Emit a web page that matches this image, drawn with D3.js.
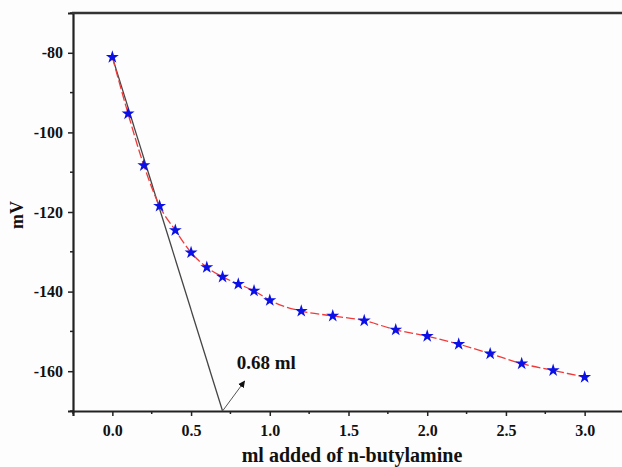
<!DOCTYPE html>
<html>
<head>
<meta charset="utf-8">
<script src="https://cdn.jsdelivr.net/npm/d3@7"></script>
<style>
  html, body { margin: 0; padding: 0; background: #fdfdfd; }
  svg { display: block; }
  text { font-family: "Liberation Serif", "Times New Roman", serif; font-weight: bold; fill: #111; }
</style>
</head>
<body>
<svg id="chart" width="622" height="467"></svg>
<script>
// titration data: ml of n-butylamine vs potential (mV)
const volumes = [0, 0.1, 0.2, 0.3, 0.4, 0.5, 0.6, 0.7, 0.8, 0.9, 1.0, 1.2, 1.4, 1.6, 1.8, 2.0, 2.2, 2.4, 2.6, 2.8, 3.0];
const potentials = [-81.1, -95.3, -108.3, -118.5, -124.6, -130.2, -133.9, -136.3, -138.1, -139.8, -142.2, -144.9, -146.1, -147.3, -149.6, -151.2, -153.2, -155.6, -158.1, -159.8, -161.5];

// tangent line through the first points, meets the axis at the end point
const tangent = [[0, -81.1], [0.70, -170]];
const endPointLabel = "0.68 ml";

const xTicks = [0, 0.5, 1.0, 1.5, 2.0, 2.5, 3.0];
const yTicks = [-80, -100, -120, -140, -160];

const svg = d3.select('#chart');
const margin = { left: 73, top: 13, right: -2, bottom: 56 };
const width = 622, height = 467;

const x = d3.scaleLinear().domain([-0.25, 3.25]).range([margin.left, width - margin.right]);
const y = d3.scaleLinear().domain([-170, -70]).range([height - margin.bottom, margin.top]);

const data = volumes.map((v, i) => ({ x: v, y: potentials[i] }));

// minor ticks
const xMinor = d3.range(-0.25, 3.26, 0.25).filter(v => Math.abs(v * 2 - Math.round(v * 2)) > 0.01);
const yMinor = d3.range(-170, -69, 10).filter(v => v % 20 !== 0);

const xAxisG = svg.append("g").attr("transform", `translate(0,${y(-170)})`);
xAxisG.call(d3.axisBottom(x).tickValues(xTicks).tickFormat(d3.format(".1f")).tickSize(5).tickPadding(9));
xMinor.forEach(v => {
    xAxisG.append("line").attr("x1", x(v)).attr("x2", x(v)).attr("y1", 0).attr("y2", 3)
        .attr("stroke", "#222").attr("stroke-width", 1.5);
});

// plain hyphen like the original figure, not the unicode minus
const yAxisG = svg.append("g").attr("transform", `translate(${x(-0.25)},0)`);
yAxisG.call(d3.axisLeft(y).tickValues(yTicks).tickFormat(d => String(d)).tickSize(5).tickPadding(5));
yMinor.forEach(v => {
    yAxisG.append("line").attr("x1", 0).attr("x2", -3).attr("y1", y(v)).attr("y2", y(v))
        .attr("stroke", "#222").attr("stroke-width", 1.5);
});

[xAxisG, yAxisG].forEach(g => {
    g.select(".domain").attr("stroke", "#222").attr("stroke-width", 2.2);
    g.selectAll(".tick line").attr("stroke", "#222").attr("stroke-width", 1.5);
    g.selectAll(".tick text").attr("font-size", 16).attr("fill", "#111")
        .style("font-family", '"Liberation Serif", serif').style("font-weight", "bold");
});

// top frame line
svg.append("line")
    .attr("x1", x(-0.25) - 1).attr("x2", width)
    .attr("y1", y(-70)).attr("y2", y(-70))
    .attr("stroke", "#333").attr("stroke-width", 2.5);

// tangent line
svg.append("line")
    .attr("x1", x(tangent[0][0])).attr("y1", y(tangent[0][1]))
    .attr("x2", x(tangent[1][0])).attr("y2", y(tangent[1][1]))
    .attr("stroke", "#444").attr("stroke-width", 1.3);

// data curve
const line = d3.line().x(d => x(d.x)).y(d => y(d.y)).curve(d3.curveMonotoneX);
svg.append("path")
    .datum(data)
    .attr("d", line)
    .attr("fill", "none")
    .attr("stroke", "#f03a3a")
    .attr("stroke-width", 1.3)
    .attr("stroke-dasharray", "9,3");

svg.append("g").selectAll("path")
    .data(data)
    .join("path")
    .attr("transform", d => `translate(${x(d.x)},${y(d.y)})`)
    .attr("d", d3.symbol().type(d3.symbolStar).size(52))
    .attr("fill", "#0a10e6");

// arrow to the end point label
svg.append("defs").append("marker")
    .attr("id", "arrowhead")
    .attr("viewBox", "0 0 10 10")
    .attr("refX", 9).attr("refY", 5)
    .attr("markerWidth", 7).attr("markerHeight", 7)
    .attr("orient", "auto")
    .append("path").attr("d", "M0,0 L10,5 L0,10 Z").attr("fill", "#111");

svg.append("line")
    .attr("x1", x(tangent[1][0])).attr("y1", y(tangent[1][1]))
    .attr("x2", x(0.84)).attr("y2", y(-162.5))
    .attr("stroke", "#555").attr("stroke-width", 1)
    .attr("marker-end", "url(#arrowhead)");

svg.append("text")
    .attr("x", x(0.79)).attr("y", y(-159.5))
    .attr("font-size", 19)
    .text(endPointLabel);

// axis titles
svg.append("text")
    .attr("x", 352).attr("y", 462)
    .attr("text-anchor", "middle")
    .attr("font-size", 20)
    .text("ml added of n-butylamine");

svg.append("text")
    .attr("transform", `translate(23,215) rotate(-90)`)
    .attr("text-anchor", "middle")
    .attr("font-size", 18)
    .text("mV");
</script>
</body>
</html>
